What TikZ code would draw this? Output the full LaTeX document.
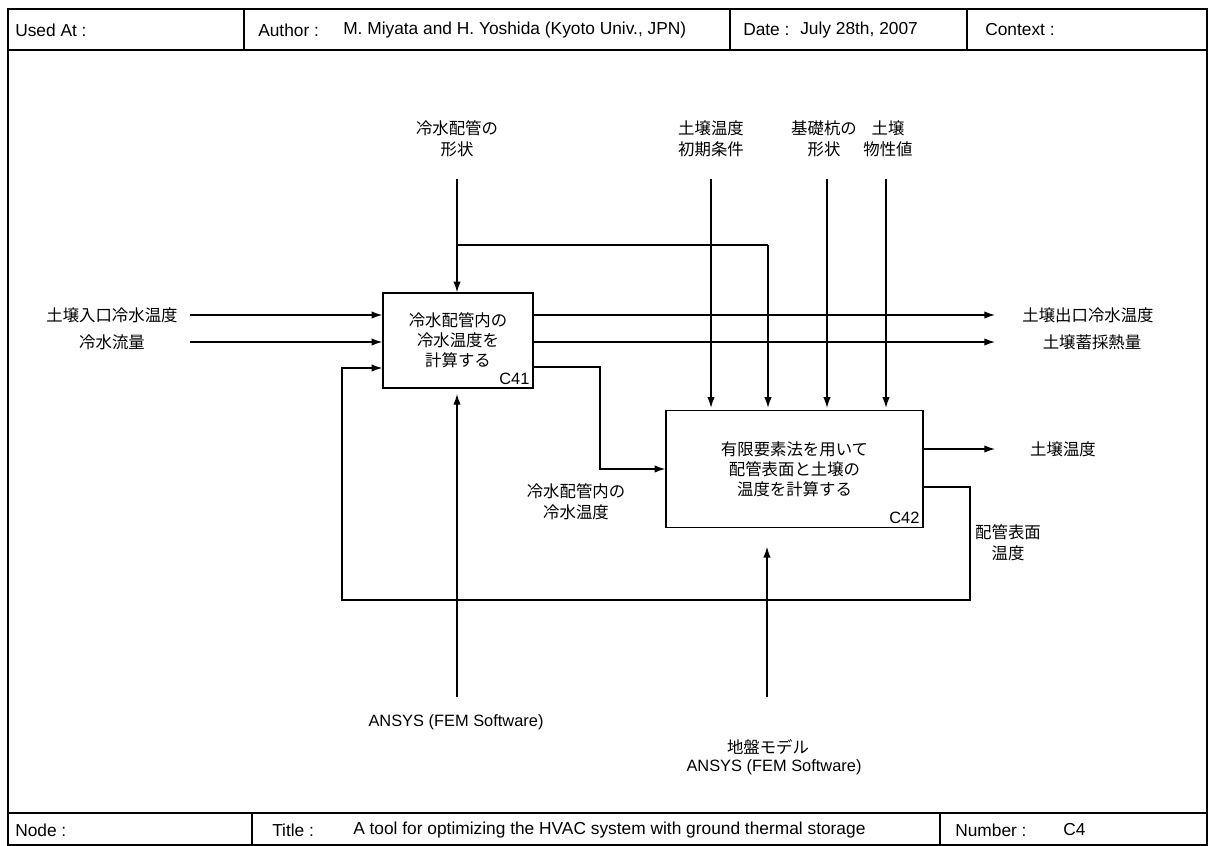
\documentclass[tikz,border=0pt]{standalone}
\usepackage{fontspec}
\setmainfont{Liberation Sans}
\newfontfamily\jp{Noto Sans CJK JP}
\usetikzlibrary{arrows.meta}
\begin{document}
\begin{tikzpicture}[x=0.75pt,y=-0.75pt,
  conn/.style={line width=0.95pt,-{Latex[length=8pt,width=5.5pt]}},
  wire/.style={line width=0.95pt},
  frame/.style={line width=1.5pt},
  proc/.style={draw,line width=1pt,inner sep=0pt,align=center,font=\jp\fontsize{12.3}{15}\selectfont},
  lab/.style={align=center,font=\jp\fontsize{12.3}{15.5}\selectfont,inner sep=0pt},
  latin/.style={align=center,font=\fontsize{12.3}{15}\selectfont,inner sep=0pt},
  hdr/.style={anchor=west,font=\fontsize{13}{15}\selectfont,inner sep=0pt},
  code/.style={anchor=south east,font=\fontsize{12.3}{14}\selectfont,inner sep=0pt},
]
\useasboundingbox (0,0) rectangle (1215,846);
% frame
\draw[frame] (8,9) rectangle (1207,845);
\draw[frame] (8,50) -- (1207,50);
\draw[frame] (8,813) -- (1207,813);
\draw[frame] (244,9) -- (244,50);
\draw[frame] (730,9) -- (730,50);
\draw[frame] (967,9) -- (967,50);
\draw[frame] (252,813) -- (252,845);
\draw[frame] (940,813) -- (940,845);
% header
\node[hdr] (usedat) at (15,30) {Used At :};
\node[hdr] (author) at (258,30) {Author :};
\node[hdr] (authorv) at (343,30) {M. Miyata and H. Yoshida (Kyoto Univ., JPN)};
\node[hdr] (date) at (743,30) {Date :};
\node[hdr] (datev) at (800,30) {July 28th, 2007};
\node[hdr] (context) at (985,30) {Context :};
% footer
\node[hdr] (nodef) at (15,830) {Node :};
\node[hdr] (title) at (272,830) {Title :};
\node[hdr] (titlev) at (353,830) {A tool for optimizing the HVAC system with ground thermal storage};
\node[hdr] (number) at (955,830) {Number :};
\node[hdr] (numberv) at (1063,830) {C4};
% boxes
\node[proc,minimum width=112.5pt,minimum height=71.25pt] (c41) at (458,340.5) {冷水配管内の\\冷水温度を\\計算する};
\node[code] (c41code) at ([xshift=-3pt,yshift=3pt]c41.south east) {C41};
\node[proc,minimum width=192.75pt,minimum height=87.75pt] (c42) at (794.5,469) {有限要素法を用いて\\配管表面と土壌の\\温度を計算する};
\node[code] (c42code) at ([xshift=-3pt,yshift=3pt]c42.south east) {C42};
% input labels
\node[lab] (in1l) at (112,315) {土壌入口冷水温度};
\node[lab] (in2l) at (112,342) {冷水流量};
\coordinate (in1) at (190,315);
\coordinate (in2) at (190,342);
\draw[conn] (in1) -- (in1 -| c41.west);
\draw[conn] (in2) -- (in2 -| c41.west);
% output labels
\node[lab] (out1l) at (1088,315) {土壌出口冷水温度};
\node[lab] (out2l) at (1092,342) {土壌蓄採熱量};
\coordinate (out1) at (995,315);
\coordinate (out2) at (995,342);
\draw[conn] (out1 -| c41.east) -- (out1);
\draw[conn] (out2 -| c41.east) -- (out2);
% control labels
\node[lab] (ctl1l) at (457,139) {冷水配管の\\形状};
\node[lab] (ctl2l) at (711,139) {土壌温度\\初期条件};
\node[lab] (ctl3l) at (824,139) {基礎杭の\\形状};
\node[lab] (ctl4l) at (888,139) {土壌\\物性値};
\coordinate (ctl1) at (457,179);
\coordinate (ctl2) at (711,179);
\coordinate (ctl3) at (827,179);
\coordinate (ctl4) at (886,179);
\coordinate (br) at (457,245);
\coordinate (brr) at (768,245);
\draw[conn] (ctl1) -- (c41.north -| ctl1);
\draw[wire] (br) -- (brr);
\draw[conn,shorten >=1.5pt] (brr) -- (c42.north -| brr);
\draw[conn,shorten >=1.5pt] (ctl2) -- (c42.north -| ctl2);
\draw[conn,shorten >=1.5pt] (ctl3) -- (c42.north -| ctl3);
\draw[conn,shorten >=1.5pt] (ctl4) -- (c42.north -| ctl4);
% C41 -> C42
\coordinate (m1) at (532,367);
\coordinate (m2) at (600,469);
\draw[conn] (m1 -| c41.east) -- (m1 -| m2) -- (m2) -- (m2 -| c42.west);
\node[lab] (m1l) at (576,502) {冷水配管内の\\冷水温度};
% C42 output
\coordinate (out3) at (995,449);
\draw[conn] (out3 -| c42.east) -- (out3);
\node[lab] (out3l) at (1063,449) {土壌温度};
% feedback
\coordinate (fb1) at (970,487);
\coordinate (fb2) at (342,600);
\coordinate (fb3) at (342,368);
\draw[conn] (fb1 -| c42.east) -- (fb1) -- (fb1 |- fb2) -- (fb2) -- (fb3) -- (fb3 -| c41.west);
\node[lab] (fbl) at (1008,543) {配管表面\\温度};
% mechanisms
\coordinate (mech1) at (457,697);
\coordinate (mech2) at (767,697);
\draw[conn,shorten >=4pt] (mech1) -- (c41.south -| mech1);
\draw[conn,shorten >=14pt] (mech2) -- (c42.south -| mech2);
\node[latin] (mech1l) at (456,722) {ANSYS (FEM Software)};
\node[lab] (mech2l) at (768,747) {地盤モデル};
\node[latin] (mech2l2) at (774,767) {ANSYS (FEM Software)};
\end{tikzpicture}
\end{document}
